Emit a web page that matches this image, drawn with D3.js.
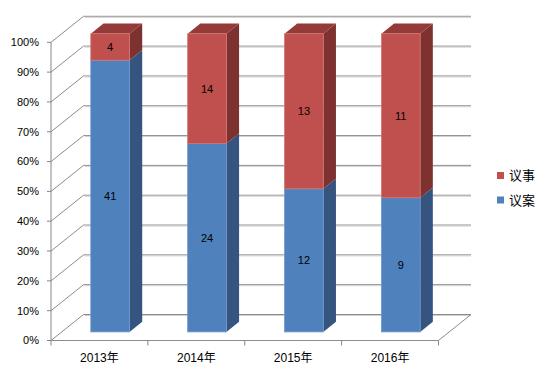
<!DOCTYPE html>
<html>
<head>
<meta charset="utf-8">
<script src="https://cdn.jsdelivr.net/npm/d3@7"></script>
<style>
  body { margin: 0; background: #fff; }
  text { font-family: "Liberation Sans", Arial, "Noto Sans CJK SC", sans-serif; }
</style>
</head>
<body>
<script>
// Chart data
const years = ["2013年", "2014年", "2015年", "2016年"];
const motions = [41, 24, 12, 9];      // 议案 (bottom, blue)
const discussions = [4, 14, 13, 11];  // 议事 (top, red)
const seriesNames = ["议事", "议案"];
const yTicks = d3.range(0, 11).map(i => i / 10);

const width = 549, height = 370;

// Oblique depth offset of the floor / walls
const DX = 32.5, DY = -26;
// Bars sit between these depth fractions
const F0 = 0.33, F1 = 0.72;

const svg = d3.select("body").append("svg")
    .attr("width", width)
    .attr("height", height);

const x = d3.scaleBand().domain(years).range([51, 438.5]).padding(0);
const y = d3.scaleLinear().domain([0, 1]).range([340.5, 42.3]);
const fmt = d3.format(".0%");

const grid = svg.append("g").attr("fill", "none");

// Side wall diagonals + back wall gridlines
yTicks.forEach(t => {
    const y0 = y(t);
    grid.append("path")
        .attr("d", `M51,${y0}L${51 + DX},${y0 + DY}L${x.range()[1] + DX},${y0 + DY}`)
        .attr("stroke", "#8c8c8c")
        .attr("stroke-width", 1);
    grid.append("path")
        .attr("d", `M${51 + DX + 1},${y0 + DY + 1}L${x.range()[1] + DX},${y0 + DY + 1}`)
        .attr("stroke", "#d0d0d0")
        .attr("stroke-width", 1);
});

// Floor
grid.append("path")
    .attr("d", `M51,${y(0)}L${x.range()[1]},${y(0)}L${x.range()[1] + DX},${y(0) + DY}`)
    .attr("stroke", "#8c8c8c");

// Y axis
grid.append("line")
    .attr("x1", 51).attr("x2", 51)
    .attr("y1", y(1)).attr("y2", y(0))
    .attr("stroke", "#868686");
yTicks.forEach(t => {
    grid.append("line")
        .attr("x1", 47).attr("x2", 51)
        .attr("y1", y(t)).attr("y2", y(t))
        .attr("stroke", "#868686");
    svg.append("text")
        .attr("x", 39).attr("y", y(t))
        .attr("dy", "0.35em")
        .attr("text-anchor", "end")
        .attr("font-size", 11)
        .attr("fill", "#000")
        .text(fmt(t));
});

// Category ticks and labels
years.concat([null]).forEach((yr, i) => {
    const xx = 51 + i * x.step();
    grid.append("line")
        .attr("x1", xx).attr("x2", xx)
        .attr("y1", y(0)).attr("y2", y(0) + 5)
        .attr("stroke", "#868686");
});
years.forEach(yr => {
    svg.append("text")
        .attr("x", x(yr) + x.bandwidth() / 2)
        .attr("y", 362)
        .attr("text-anchor", "middle")
        .attr("font-size", 12)
        .text(yr);
});

// Stacked 100% bars, drawn as oblique boxes
const colors = {
    blue: { front: "#4F81BD", side: "#35547F", top: "#3F6797", edge: "#6E98CB" },
    red: { front: "#C0504D", side: "#7D3230", top: "#943B39", edge: "#D27673" }
};

const bars = svg.append("g");
years.forEach((yr, i) => {
    const total = motions[i] + discussions[i];
    const bx0 = x(yr) + x.bandwidth() * 0.3 + F0 * DX;
    const bx1 = bx0 + x.bandwidth() * 0.4;
    const off = F0 * DY;
    const ddx = (F1 - F0) * DX, ddy = (F1 - F0) * DY;
    const segs = [
        { v0: 0, v1: motions[i] / total, c: colors.blue, label: motions[i] },
        { v0: motions[i] / total, v1: 1, c: colors.red, label: discussions[i] }
    ];
    segs.forEach((s, k) => {
        const yb = y(s.v0) + off, yt = y(s.v1) + off;
        // side face
        bars.append("path")
            .attr("d", `M${bx1},${yb}L${bx1 + ddx},${yb + ddy}L${bx1 + ddx},${yt + ddy}L${bx1},${yt}Z`)
            .attr("fill", s.c.side);
        // top face (only visible for the top segment)
        if (k === segs.length - 1) {
            bars.append("path")
                .attr("d", `M${bx0},${yt}L${bx1},${yt}L${bx1 + ddx},${yt + ddy}L${bx0 + ddx},${yt + ddy}Z`)
                .attr("fill", s.c.top);
        }
        // front face
        bars.append("rect")
            .attr("x", bx0).attr("y", yt)
            .attr("width", bx1 - bx0).attr("height", yb - yt)
            .attr("fill", s.c.front)
            .attr("stroke", s.c.edge)
            .attr("stroke-width", 0.8);
        bars.append("text")
            .attr("x", (bx0 + bx1) / 2)
            .attr("y", (yb + yt) / 2)
            .attr("dy", "0.35em")
            .attr("text-anchor", "middle")
            .attr("font-size", 11)
            .text(s.label);
    });
});

// Legend
const legend = svg.append("g");
[colors.red.front, colors.blue.front].forEach((c, i) => {
    const ly = 175.5 + i * 24.5;
    legend.append("rect")
        .attr("x", 497).attr("y", ly - 3.5)
        .attr("width", 7).attr("height", 7)
        .attr("fill", c);
    legend.append("text")
        .attr("x", 509).attr("y", ly)
        .attr("dy", "0.38em")
        .attr("font-size", 13)
        .attr("font-family", "'Noto Sans CJK SC', sans-serif")
        .text(seriesNames[i]);
});
</script>
</body>
</html>
